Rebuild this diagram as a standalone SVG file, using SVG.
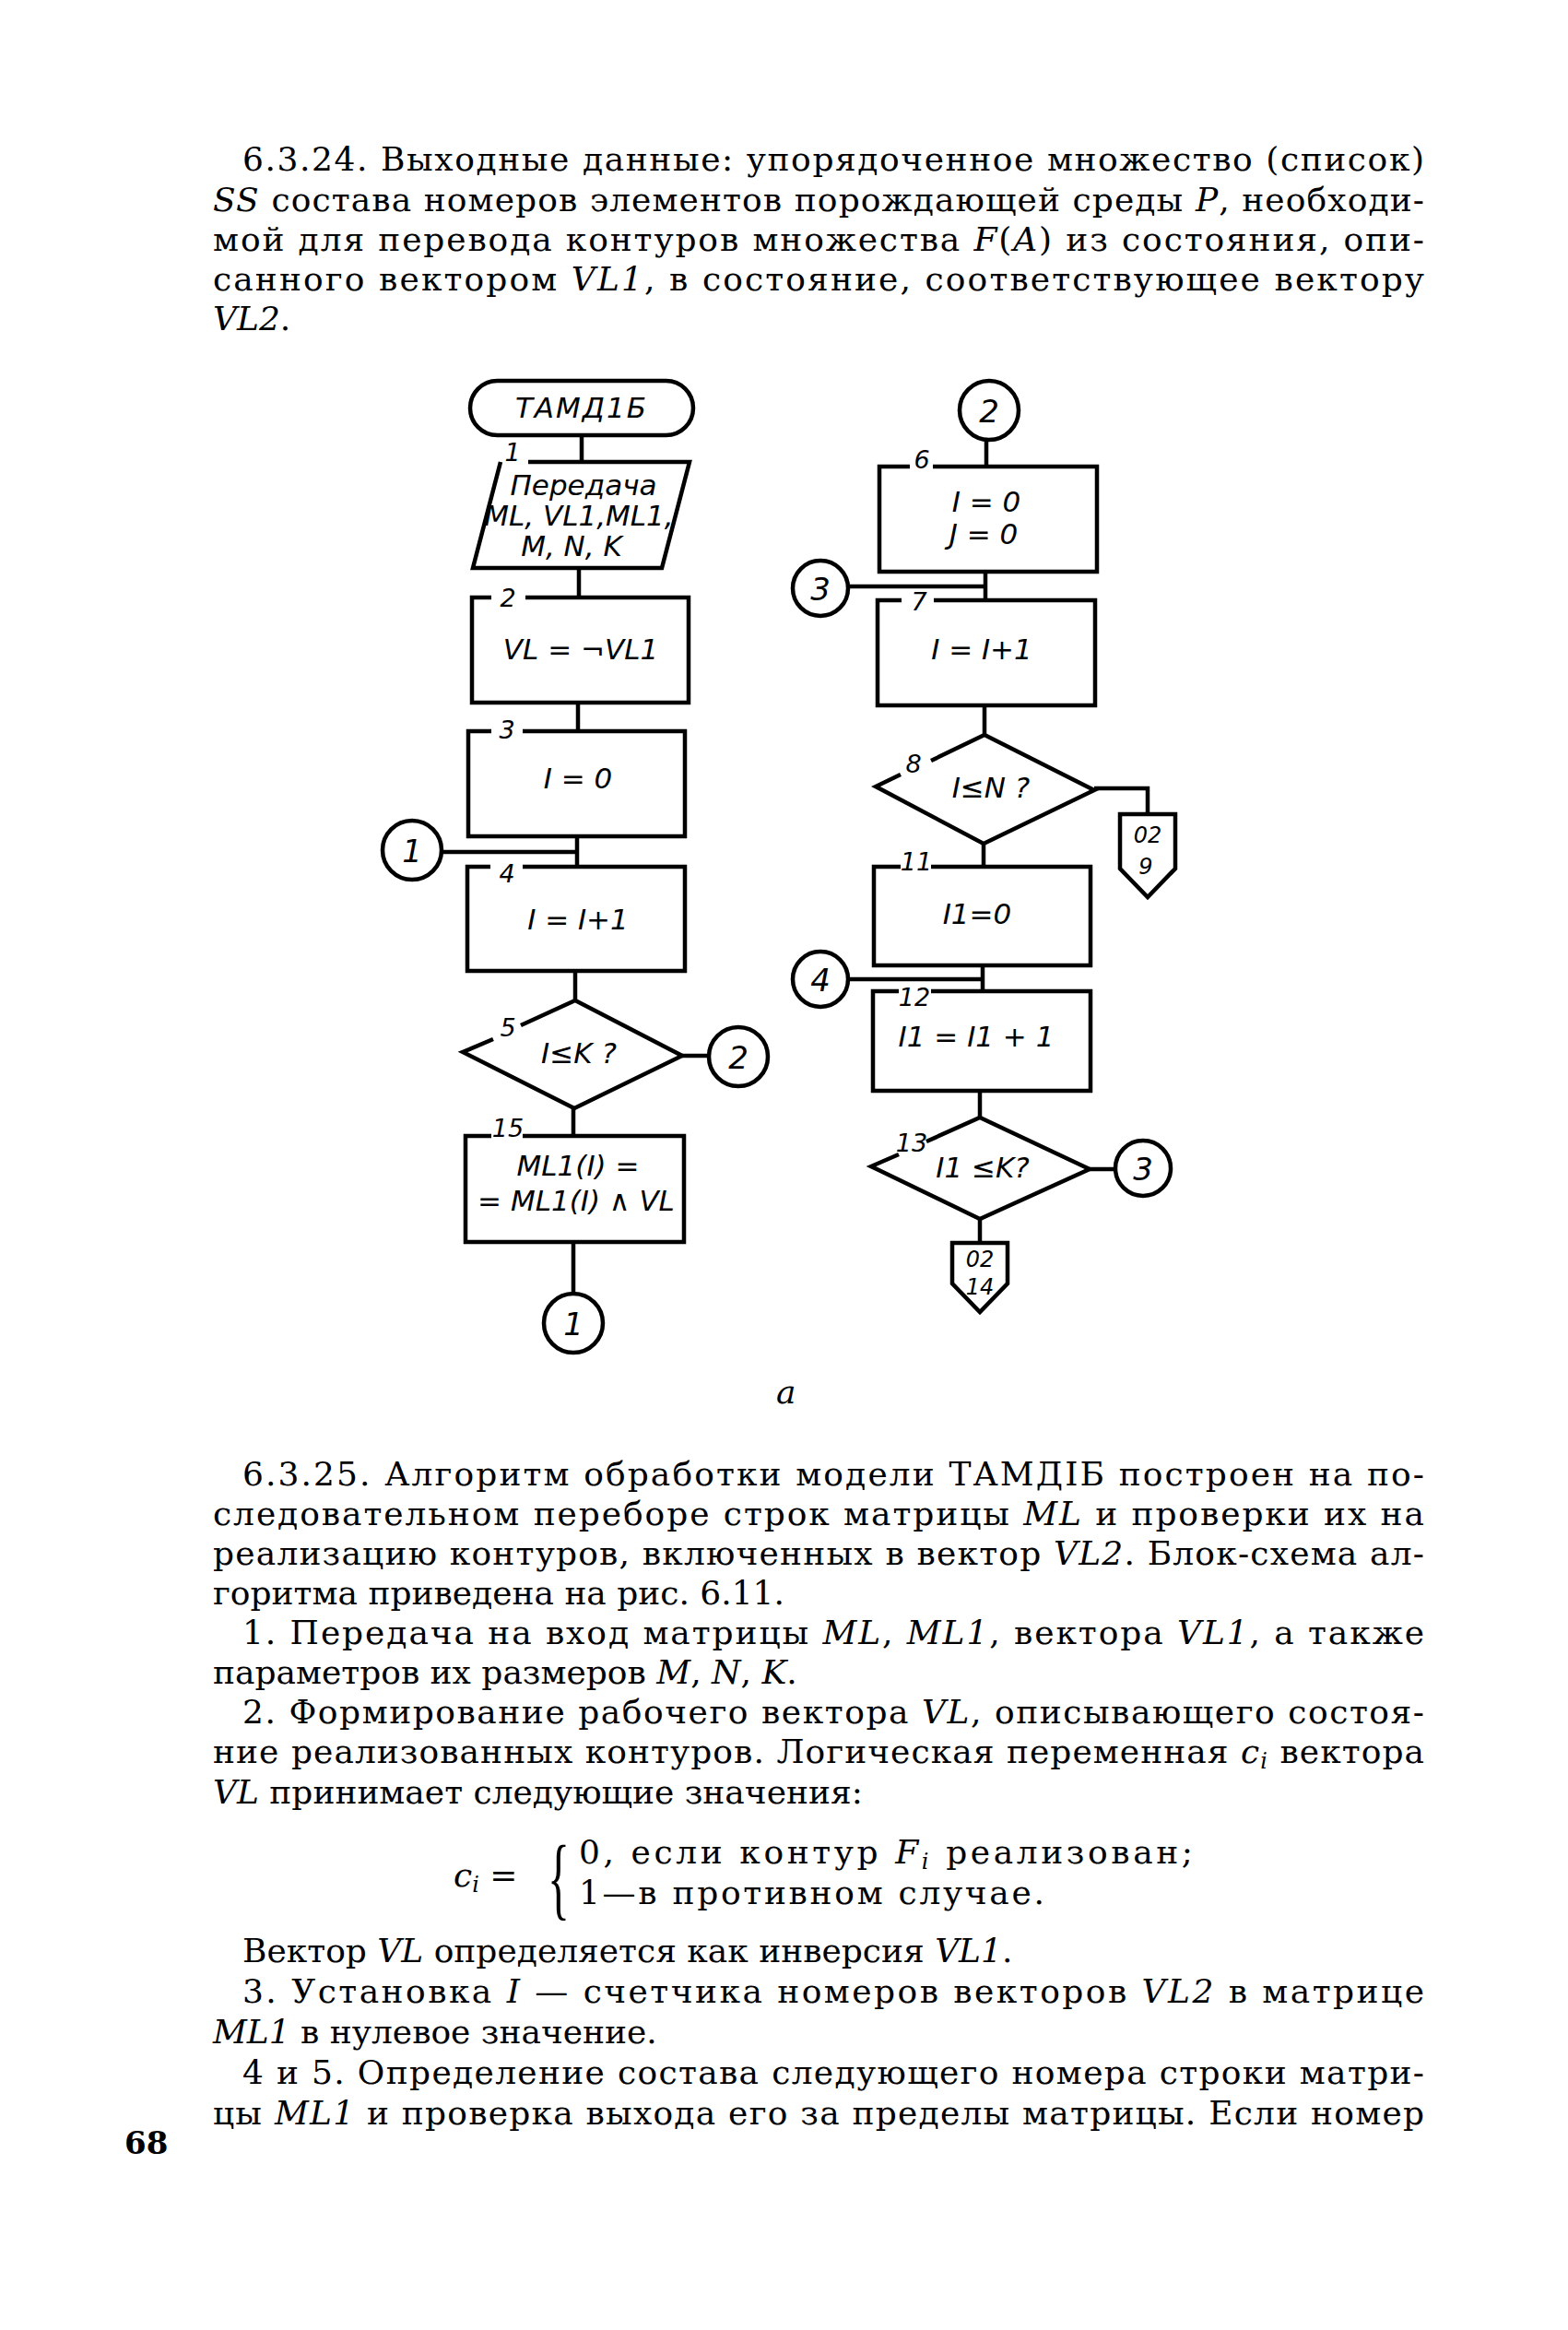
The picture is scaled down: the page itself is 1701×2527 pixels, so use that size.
<svg xmlns="http://www.w3.org/2000/svg" width="1701" height="2527" viewBox="0 0 1701 2527">
<style>
.box{fill:none;stroke:#000;stroke-width:4.5;stroke-linejoin:miter}
.ln{fill:none;stroke:#000;stroke-width:4.5}
.cir{fill:#fff;stroke:#000;stroke-width:4.5}
.ft{font-family:"DejaVu Sans","Liberation Sans",sans-serif;font-style:italic;text-anchor:middle;fill:#000}
.t30{font-size:31px}
.num{font-family:"DejaVu Sans","Liberation Sans",sans-serif;font-style:italic;font-size:27px;text-anchor:middle}
.cn{font-size:34px}
.op{font-size:24px}
.body{font-family:"DejaVu Serif","Liberation Serif",serif;font-size:36px;fill:#000}
.i{font-style:italic}
</style>
<rect width="1701" height="2527" fill="#fff"/>

<g id="text-top" class="body">
<text x="263" y="185" textLength="1282" lengthAdjust="spacing">6.3.24. Выходные данные: упорядоченное множество (список)</text>
<text x="231" y="229" textLength="1314" lengthAdjust="spacing"><tspan class="i">SS</tspan> состава номеров элементов порождающей среды <tspan class="i">P</tspan>, необходи-</text>
<text x="231" y="272" textLength="1314" lengthAdjust="spacing">мой для перевода контуров множества <tspan class="i">F</tspan>(<tspan class="i">A</tspan>) из состояния, опи-</text>
<text x="231" y="315" textLength="1314" lengthAdjust="spacing">санного вектором <tspan class="i">VL1</tspan>, в состояние, соответствующее вектору</text>
<text x="231" y="358"><tspan class="i">VL2</tspan>.</text>
</g>

<g id="connectors">
<line class="ln" x1="631" y1="472" x2="631" y2="501"/>
<line class="ln" x1="628" y1="616" x2="628" y2="648"/>
<line class="ln" x1="627" y1="762" x2="627" y2="793"/>
<line class="ln" x1="626" y1="907" x2="626" y2="940"/>
<line class="ln" x1="479" y1="924" x2="626" y2="924"/>
<line class="ln" x1="624" y1="1053" x2="624" y2="1085"/>
<line class="ln" x1="740" y1="1145" x2="769" y2="1145"/>
<line class="ln" x1="622" y1="1202" x2="622" y2="1232"/>
<line class="ln" x1="622" y1="1347" x2="622" y2="1403"/>
<line class="ln" x1="1070" y1="477" x2="1070" y2="506"/>
<line class="ln" x1="1069" y1="620" x2="1069" y2="651"/>
<line class="ln" x1="920" y1="636" x2="1069" y2="636"/>
<line class="ln" x1="1068" y1="765" x2="1068" y2="797"/>
<polyline class="ln" points="1187,855 1245,855 1245,883"/>
<line class="ln" x1="1067" y1="915" x2="1067" y2="940"/>
<line class="ln" x1="1066" y1="1047" x2="1066" y2="1075"/>
<line class="ln" x1="920" y1="1062" x2="1066" y2="1062"/>
<line class="ln" x1="1063" y1="1183" x2="1063" y2="1212"/>
<line class="ln" x1="1182" y1="1268" x2="1210" y2="1268"/>
<line class="ln" x1="1063" y1="1322" x2="1063" y2="1348"/>
</g>

<g id="start">
<rect class="box" x="510" y="413" width="242" height="59" rx="29.5"/>
<text class="ft t30" x="631" y="453" letter-spacing="2">ТАМД1Б</text>
</g>

<g id="n1">
<path class="box" d="M573,501 H748 L718,616 H513 L543,501"/>
<text class="num" x="556" y="500">1</text>
<text class="ft t30" x="633" y="537">Передача</text>
<text class="ft t30" x="628" y="570">ML, VL1,ML1,</text>
<text class="ft t30" x="620" y="603">M, N, K</text>
</g>

<g id="n2">
<path class="box" d="M533,648 H512 V762 H747 V648 H570"/>
<text class="num" x="551" y="658">2</text>
<text class="ft t30" x="630" y="715">VL = ¬VL1</text>
</g>

<g id="n3">
<path class="box" d="M533,793 H508 V907 H743 V793 H567"/>
<text class="num" x="550" y="801">3</text>
<text class="ft t30" x="627" y="855">I = 0</text>
</g>

<g id="c1-in">
<circle class="cir" cx="447" cy="922" r="32"/>
<text class="ft cn" x="447" y="935">1</text>
</g>

<g id="n4">
<path class="box" d="M532,940 H507 V1053 H743 V940 H567"/>
<text class="num" x="550" y="957">4</text>
<text class="ft t30" x="627" y="1008">I = I+1</text>
</g>

<g id="n5">
<path class="box" d="M565,1112 L624,1085 L740,1145 L623,1202 L502,1141 L535,1127"/>
<text class="num" x="551" y="1124">5</text>
<text class="ft t30" x="628" y="1153">I≤K ?</text>
</g>

<g id="c2-out">
<circle class="cir" cx="801" cy="1146" r="32"/>
<text class="ft cn" x="801" y="1159">2</text>
</g>

<g id="n15">
<path class="box" d="M533,1232 H505 V1347 H742 V1232 H567"/>
<text class="num" x="551" y="1233">15</text>
<text class="ft t30" x="627" y="1275">ML1(I) =</text>
<text class="ft t30" x="625" y="1313">= ML1(I) ∧ VL</text>
</g>

<g id="c1-out">
<circle class="cir" cx="622" cy="1435" r="32"/>
<text class="ft cn" x="622" y="1448">1</text>
</g>

<g id="c2-in">
<circle class="cir" cx="1073" cy="445" r="32"/>
<text class="ft cn" x="1073" y="458">2</text>
</g>

<g id="n6">
<path class="box" d="M987,506 H954 V620 H1190 V506 H1012"/>
<text class="num" x="1000" y="508">6</text>
<text class="ft t30" x="1070" y="555">I = 0</text>
<text class="ft t30" x="1067" y="590">J = 0</text>
</g>

<g id="c3-in">
<circle class="cir" cx="890" cy="638" r="30"/>
<text class="ft cn" x="890" y="651">3</text>
</g>

<g id="n7">
<path class="box" d="M978,651 H952 V765 H1188 V651 H1013"/>
<text class="num" x="997" y="662">7</text>
<text class="ft t30" x="1065" y="715">I = I+1</text>
</g>

<g id="n8">
<path class="box" d="M1010,825 L1068,797 L1187,857 L1067,915 L950,853 L977,840"/>
<text class="num" x="991" y="838">8</text>
<text class="ft t30" x="1075" y="865">I≤N ?</text>
</g>

<g id="off9">
<polygon class="box" points="1215,883 1275,883 1275,942 1245,973 1215,942"/>
<text class="ft op" x="1245" y="914">02</text>
<text class="ft op" x="1243" y="948">9</text>
</g>

<g id="n11">
<path class="box" d="M977,940 H948 V1047 H1183 V940 H1010"/>
<text class="num" x="994" y="944">11</text>
<text class="ft t30" x="1060" y="1002">I1=0</text>
</g>

<g id="c4-in">
<circle class="cir" cx="890" cy="1062" r="30"/>
<text class="ft cn" x="890" y="1075">4</text>
</g>

<g id="n12">
<path class="box" d="M975,1075 H947 V1183 H1183 V1075 H1010"/>
<text class="num" x="992" y="1091">12</text>
<text class="ft t30" x="1059" y="1135">I1 = I1 + 1</text>
</g>

<g id="n13">
<path class="box" d="M1005,1238 L1063,1212 L1182,1268 L1063,1322 L945,1265 L975,1252"/>
<text class="num" x="989" y="1249">13</text>
<text class="ft t30" x="1066" y="1277">I1 ≤K?</text>
</g>

<g id="c3-out">
<circle class="cir" cx="1240" cy="1267" r="30"/>
<text class="ft cn" x="1240" y="1280">3</text>
</g>

<g id="off14">
<polygon class="box" points="1033,1348 1093,1348 1093,1392 1063,1423 1033,1392"/>
<text class="ft op" x="1063" y="1374">02</text>
<text class="ft op" x="1063" y="1404">14</text>
</g>

<text class="body i" x="842" y="1522">a</text>

<g id="text-bottom" class="body">
<text x="263" y="1611" textLength="1282" lengthAdjust="spacing">6.3.25. Алгоритм обработки модели ТАМДІБ построен на по-</text>
<text x="231" y="1654" textLength="1314" lengthAdjust="spacing">следовательном переборе строк матрицы <tspan class="i">ML</tspan> и проверки их  на</text>
<text x="231" y="1697" textLength="1314" lengthAdjust="spacing">реализацию контуров, включенных в вектор <tspan class="i">VL2</tspan>. Блок-схема ал-</text>
<text x="231" y="1740">горитма приведена на рис. 6.11.</text>
<text x="263" y="1783" textLength="1282" lengthAdjust="spacing">1. Передача на вход матрицы <tspan class="i">ML</tspan>, <tspan class="i">ML1</tspan>, вектора <tspan class="i">VL1</tspan>, а также</text>
<text x="231" y="1826">параметров их размеров <tspan class="i">M</tspan>, <tspan class="i">N</tspan>, <tspan class="i">K</tspan>.</text>
<text x="263" y="1869" textLength="1282" lengthAdjust="spacing">2. Формирование рабочего вектора <tspan class="i">VL</tspan>, описывающего состоя-</text>
<text x="231" y="1912" textLength="1314" lengthAdjust="spacing">ние реализованных контуров. Логическая переменная <tspan class="i">c</tspan><tspan class="i" font-size="24" dy="6">i</tspan><tspan dy="-6">  вектора</tspan></text>
<text x="231" y="1956"><tspan class="i">VL</tspan> принимает следующие значения:</text>
<text x="492" y="2046"><tspan class="i">c</tspan><tspan class="i" font-size="24" dy="6">i</tspan><tspan dy="-6"> =</tspan></text>
<text x="0" y="0" font-size="100" font-family="Liberation Serif, serif" transform="translate(594 2070) scale(0.5 1)">{</text>
<text x="628" y="2021" textLength="666" lengthAdjust="spacing">0, если контур <tspan class="i">F</tspan><tspan class="i" font-size="24" dy="6">i</tspan><tspan dy="-6">  реализован;</tspan></text>
<text x="628" y="2065" textLength="505" lengthAdjust="spacing">1—в противном случае.</text>
<text x="263" y="2128">Вектор <tspan class="i">VL</tspan> определяется как инверсия <tspan class="i">VL1</tspan>.</text>
<text x="263" y="2172" textLength="1282" lengthAdjust="spacing">3. Установка <tspan class="i">I</tspan> — счетчика номеров векторов <tspan class="i">VL2</tspan> в матрице</text>
<text x="231" y="2216"><tspan class="i">ML1</tspan> в нулевое значение.</text>
<text x="263" y="2260" textLength="1282" lengthAdjust="spacing">4 и 5. Определение состава следующего номера строки матри-</text>
<text x="231" y="2304" textLength="1314" lengthAdjust="spacing">цы <tspan class="i">ML1</tspan> и проверка выхода его за пределы матрицы. Если номер</text>
<text x="135" y="2336" font-weight="bold" font-size="34">68</text>
</g>
</svg>
